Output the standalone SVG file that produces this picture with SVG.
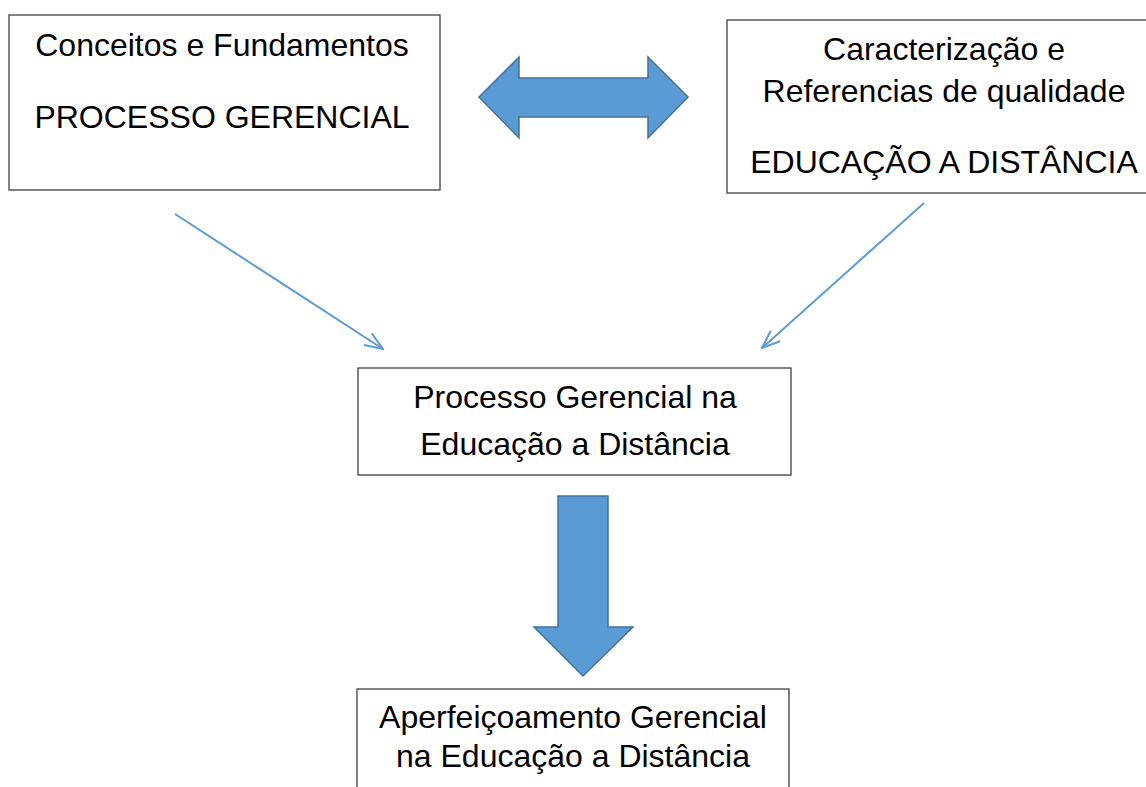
<svg xmlns="http://www.w3.org/2000/svg" width="1146" height="787" viewBox="0 0 1146 787">
<style>
.box{fill:#fff;stroke:#404040;stroke-width:1.3}
.t{font-family:"Liberation Sans",Arial,sans-serif;font-size:32px;fill:#000;text-anchor:middle}
.big{fill:#5B9BD5;stroke:#41719C;stroke-width:1.5}
.thin{fill:none;stroke:#5B9BD5;stroke-width:2}
</style>
<defs>
<marker id="open" viewBox="0 0 20 20" refX="19" refY="10" markerWidth="20" markerHeight="20" markerUnits="userSpaceOnUse" orient="auto">
<path d="M1,3 L19,10 L1,17" fill="none" stroke="#5B9BD5" stroke-width="2"/>
</marker>
</defs>
<rect width="1146" height="787" fill="#fff"/>
<g id="n1">
<rect class="box" x="9" y="15" width="431" height="175"/>
<text class="t" x="222" y="56">Conceitos e Fundamentos</text>
<text class="t" x="222" y="128">PROCESSO GERENCIAL</text>
</g>
<g id="n2">
<rect class="box" x="727" y="20" width="425" height="173"/>
<text class="t" x="944" y="60">Caracterização e</text>
<text class="t" x="944" y="102">Referencias de qualidade</text>
<text class="t" x="944" y="173">EDUCAÇÃO A DISTÂNCIA</text>
</g>
<g id="n3">
<rect class="box" x="358" y="368" width="433" height="107"/>
<text class="t" x="575" y="408">Processo Gerencial na</text>
<text class="t" x="575" y="455">Educação a Distância</text>
</g>
<g id="n4">
<rect class="box" x="357" y="689" width="432" height="110"/>
<text class="t" x="573" y="728">Aperfeiçoamento Gerencial</text>
<text class="t" x="573" y="767">na Educação a Distância</text>
</g>
<g id="connectors">
<path class="big" d="M479,97 L519,57 L519,78 L648,78 L648,57 L688,97 L648,138 L648,117 L519,117 L519,138 Z"/>
<path class="big" d="M558,496 L608,496 L608,627 L633,627 L583,676 L534,627 L558,627 Z"/>
<line class="thin" x1="175" y1="214" x2="383" y2="349" marker-end="url(#open)"/>
<line class="thin" x1="924" y1="203" x2="762" y2="348" marker-end="url(#open)"/>
</g>
</svg>
